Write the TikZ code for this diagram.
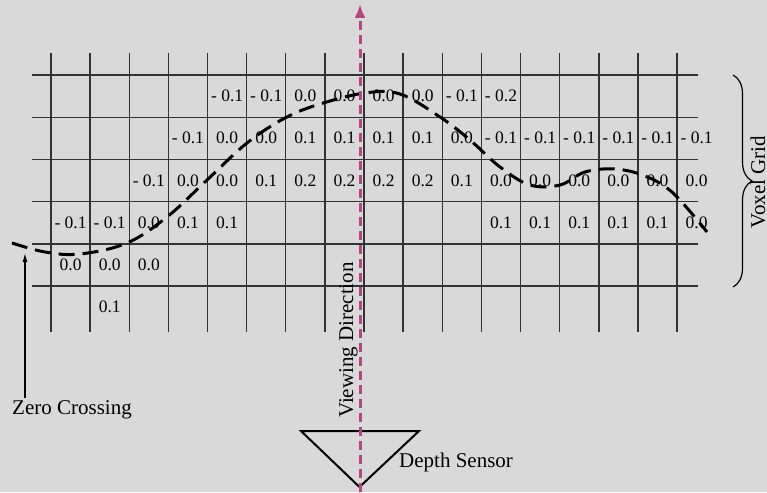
\documentclass[tikz,border=0pt]{standalone}
\usepackage{fontspec}
\setmainfont{Liberation Serif}
\usetikzlibrary{arrows.meta,decorations.pathreplacing}

\definecolor{bggray}{RGB}{217,217,217}
\definecolor{viewpink}{RGB}{178,72,128}

\tikzset{
  gridline/.style={line width=1.4pt, black!80},
  val/.style={inner sep=0pt, font=\fontsize{17.5}{18}\selectfont},
  lbl/.style={inner sep=0pt, font=\fontsize{21}{22}\selectfont},
  surface/.style={line width=3pt, dash pattern=on 16pt off 8pt},
  viewdir/.style={line width=3pt, viewpink, dash pattern=on 9pt off 5pt,
    -{Latex[length=14pt,width=11pt]}},
}

\begin{document}
\begin{tikzpicture}[x=1pt,y=-1pt]

\fill [bggray] (0,0) rectangle (767,492);
\useasboundingbox (0,0) rectangle (767,492);

\foreach \i in {0,...,5}
  \draw [gridline] (32,{75+42.2*\i}) -- (698,{75+42.2*\i});
\foreach \i in {0,...,16}
  \draw [gridline] ({51+39.13*\i},53) -- ({51+39.13*\i},332);

% distance values per row (column/value)
\foreach \r/\cells in {
  0/{4/- 0.1,5/- 0.1,6/0.0,7/0.0,8/0.0,9/0.0,10/- 0.1,11/- 0.2},
  1/{3/- 0.1,4/0.0,5/0.0,6/0.1,7/0.1,8/0.1,9/0.1,10/0.0,11/- 0.1,12/- 0.1,13/- 0.1,14/- 0.1,15/- 0.1,16/- 0.1},
  2/{2/- 0.1,3/0.0,4/0.0,5/0.1,6/0.2,7/0.2,8/0.2,9/0.2,10/0.1,11/0.0,12/0.0,13/0.0,14/0.0,15/0.0,16/0.0},
  3/{0/- 0.1,1/- 0.1,2/0.0,3/0.1,4/0.1,11/0.1,12/0.1,13/0.1,14/0.1,15/0.1,16/0.0},
  4/{0/0.0,1/0.0,2/0.0},
  5/{1/0.1}}
  \foreach \c/\v in \cells
    \node [val] (v\r-\c) at ({51+39.13*(\c+0.5)},{75+42.2*(\r+0.5)}) {\v};

\draw [surface] plot [smooth, tension=0.6] coordinates {
  (12,243) (45,252) (80,254) (127,243) (167,217) (207,180) (247,143)
  (285,118) (320,104) (365,93) (400,94) (440,117) (470,140) (500,167)
  (530,185) (560,185) (585,172) (615,169) (645,176) (673,193) (707,232)};

% labels
\node [lbl] (zero label) at (72,410) {Zero Crossing};
\coordinate (zero tail) at (25,398);
\coordinate (zero tip) at (25,253);
\draw [line width=1.2pt, -{Latex[length=9pt,width=5pt]}] (zero tail) -- (zero tip);

\draw [line width=1.2pt, decorate, decoration={brace, amplitude=19pt}]
  (733,75) -- (733,287);
\node [lbl, rotate=90, anchor=base] (grid label) at (765,182) {Voxel Grid};

\coordinate (sensor tl) at (301,431);
\coordinate (sensor tr) at (419,431);
\coordinate (sensor tip) at (359.5,487);
\draw [line width=2pt, line join=miter] (sensor tl) -- (sensor tr) -- (sensor tip) -- cycle;
\node [lbl, anchor=west] (sensor label) at (399,462) {Depth Sensor};

\node [lbl, rotate=90, anchor=base] (view label) at (353,340) {Viewing Direction};
\coordinate (view start) at (360,492);
\coordinate (view end) at (360,4);
\draw [viewdir] (view start) -- (view end);

\end{tikzpicture}
\end{document}
